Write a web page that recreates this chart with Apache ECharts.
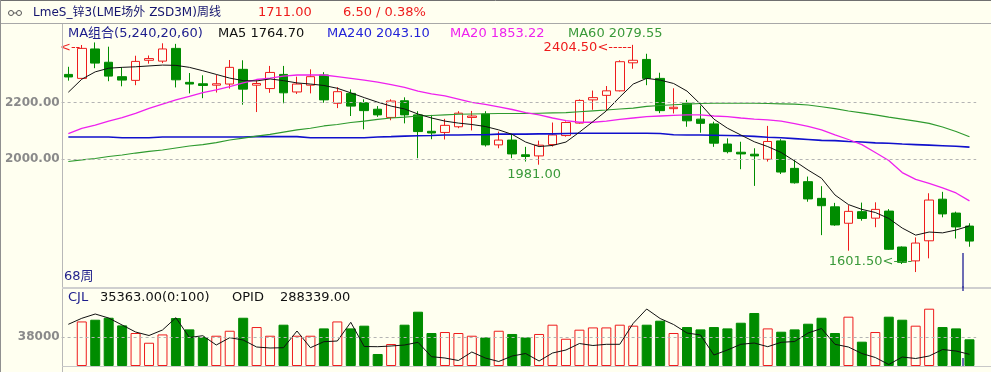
<!DOCTYPE html>
<html><head><meta charset="utf-8">
<script src="https://cdn.jsdelivr.net/npm/echarts@6/dist/echarts.min.js"></script>
<style>html,body{margin:0;padding:0;background:#fffff0;}#c{width:991px;height:372px;}</style>
</head><body><div id="c"></div><script>
// ---- data (68 weekly bars) ----
const categories = Array.from({length: 68}, (_, i) => 'W' + (i + 1));
const opens  = [2300,2286,2390,2343,2292,2279,2350,2347,2392,2272,2267,2262,2266,2318,2262,2250,2300,2238,2262,2298,2198,2233,2200,2177,2148,2207,2157,2099,2095,2115,2148,2160,2051,2068,2016,2012,2052,2084,2128,2210,2226,2242,2341,2353,2286,2179,2198,2142,2125,2054,2025,2018,2000,2065,1968,1921,1862,1832,1774,1815,1792,1817,1690,1641,1712,1859,1810,1764];
const closes = [2291,2392,2340,2294,2280,2346,2356,2390,2281,2266,2261,2267,2325,2248,2268,2307,2235,2266,2292,2210,2239,2188,2172,2157,2206,2157,2098,2093,2120,2163,2153,2051,2068,2019,2010,2050,2086,2130,2208,2218,2242,2345,2350,2286,2172,2184,2136,2127,2057,2027,2019,2012,2063,1955,1917,1860,1836,1768,1816,1791,1823,1682,1636,1704,1856,1807,1761,1711];
const lows   = [2278,2284,2322,2276,2258,2262,2338,2340,2254,2233,2216,2236,2250,2193,2167,2235,2198,2231,2233,2200,2181,2153,2106,2150,2138,2127,2004,2071,2070,2110,2102,2045,2039,2004,1992,1981,2045,2080,2126,2175,2172,2240,2320,2262,2163,2162,2115,2094,2044,2021,1965,1906,1992,1948,1914,1850,1732,1765,1677,1783,1760,1680,1630,1601.5,1650,1795,1720,1691];
const highs  = [2327,2404,2413,2398,2325,2366,2367,2410,2408,2305,2297,2298,2351,2350,2280,2330,2330,2292,2318,2308,2255,2247,2212,2188,2212,2219,2170,2157,2143,2170,2171,2170,2098,2086,2044,2066,2130,2134,2212,2243,2259,2350,2404.5,2373,2306,2251,2210,2190,2133,2074,2062,2039,2118,2071,1998,1939,1905,1846,1838,1847,1848,1824,1692,1724,1880,1885,1815,1774];
const ma5    = [2237,2283,2309,2322,2325,2327,2330,2333,2332,2325,2313,2300,2287,2278,2277,2284,2278,2270,2266,2261,2251,2235,2218,2202,2188,2178,2160,2146,2135,2128,2123,2116,2104,2088,2061,2045,2049,2061,2096,2133,2171,2220,2266,2286,2280,2268,2241,2195,2142,2110,2086,2062,2045,2024,1994,1962,1933,1874,1840,1823,1812,1791,1757,1732,1743,1740,1750,1764.70];
const ma20   = [2091,2109,2121,2135,2147,2162,2180,2195,2210,2222,2236,2245,2257,2270,2282,2287,2294,2298,2298,2298,2292,2286,2280,2273,2264,2254,2241,2231,2224,2213,2201,2194,2185,2176,2165,2157,2146,2137,2131,2131,2135,2141,2146,2151,2153,2155,2157,2157,2153,2151,2146,2142,2139,2135,2126,2116,2104,2086,2070,2052,2024,1996,1953,1929,1915,1899,1881,1853.22];
const ma60   = [1992,1998,2003,2010,2015,2022,2028,2033,2040,2047,2052,2059,2068,2075,2082,2088,2096,2104,2110,2118,2123,2130,2135,2141,2146,2149,2153,2155,2157,2159,2160,2161,2162,2162,2162,2163,2164,2165,2168,2171,2174,2178,2181,2187,2190,2193,2195,2197,2198,2198,2198,2198,2197,2196,2195,2192,2186,2179,2171,2164,2157,2149,2142,2135,2127,2114,2098,2079.55];
const ma240  = [2079,2079,2079,2079,2076,2076,2076,2079,2079,2079,2079,2079,2079,2079,2080,2080,2080,2080,2076,2076,2076,2076,2076,2079,2080,2082,2083,2084,2086,2086,2087,2087,2089,2089,2089,2090,2090,2091,2092,2092,2092,2092,2092,2092,2091,2087,2086,2086,2085,2084,2083,2081,2078,2076,2073,2070,2067,2066,2063,2061,2058,2057,2054,2052,2050,2048,2046,2043.10];
const volumes = [null,59000,61300,63900,53800,43700,30800,41800,63500,48500,38400,40100,46700,63900,51600,40100,54700,40100,40100,49800,59000,49800,53400,15900,29100,54700,71900,43700,45000,43700,40100,37900,46700,42400,37900,42400,54700,36100,48100,51100,51100,54700,53400,54700,60000,43700,51600,48500,51600,49800,57300,70200,49800,45400,48500,56000,63900,43700,65300,32200,45000,65300,61300,53400,75900,51600,49800,35363];
const opid = [303350,306350,308500,306500,303000,299500,297750,300500,306650,296750,297650,293000,296650,295500,292000,291500,291650,300000,291650,294650,295000,304350,292250,292150,292500,293000,294350,287150,286500,285250,289500,286500,284750,287500,288750,285000,289000,290500,293750,292750,293350,293350,303850,311000,306250,303250,299000,298000,288000,290500,293350,294000,292150,294350,294750,299000,301250,293350,292000,288750,286750,283250,287000,286250,287500,290750,290000,288339];
const priceTicks = [2000, 2200];
const volumeTicks = [38000];
const highMarks = [[42, 2404.50]];
const leftMark = [[1, 2404]];
const lowMarks = [[63, 1601.50]];
const localLow = [[35, 1981.00]];
const titleText = 'LmeS_锌3(LME场外 ZSD3M)周线';
const lastPrice = 1711.00, change = 6.50, changePct = 0.38;
const barsLabel = '68周';

// ---- styling ----
const BG = '#fffff0', RED = '#ee1c1c', GREEN = '#008c00';
const FAM = '"DejaVu Sans", "Noto Sans CJK SC", sans-serif';
const f13 = '13px ' + FAM;
const lbl = (color, extra) => Object.assign({color: color, fontSize: 13, fontFamily: FAM}, extra || {});

const candleData = opens.map((o, i) => [o, closes[i], lows[i], highs[i]]);
const volData = volumes.map((v, i) => {
  const up = closes[i] > opens[i];
  return {value: v, itemStyle: up ? {color: BG, borderColor: RED, borderWidth: 1} : {color: GREEN, borderColor: GREEN, borderWidth: 1}};
});
const last = a => a[a.length - 1];

function txt(x, y, text, fill, font) {
  return {type: 'text', x: x, y: y, z: 50, silent: true,
    style: {text: text, fill: fill, font: font || f13, align: 'left', verticalAlign: 'middle'}};
}
function ln(x1, y1, x2, y2, stroke, w) {
  return {type: 'line', z: 40, silent: true, shape: {x1, y1, x2, y2}, style: {stroke, lineWidth: w || 1}};
}
const axisLbl = {position: 'start', distance: 2, color: '#8a8a8a', fontSize: 12, fontWeight: 'bold', fontFamily: '"DejaVu Sans", sans-serif'};

const chart = echarts.init(document.getElementById('c'), null, {renderer: 'canvas'});
const gridL = 61.6, gridR = 14.8;
chart.setOption({
  backgroundColor: BG,
  animation: false,
  grid: [
    {left: gridL, right: gridR, top: 24, height: 263},
    {left: gridL, right: gridR, top: 292, height: 74}
  ],
  xAxis: [
    {type: 'category', data: categories, gridIndex: 0, show: false, boundaryGap: true},
    {type: 'category', data: categories, gridIndex: 1, show: false, boundaryGap: true}
  ],
  yAxis: [
    {type: 'value', gridIndex: 0, min: 1548.7, max: 2478.2, show: false, splitLine: {show: false}},
    {type: 'value', gridIndex: 1, min: 0, max: 98000, show: false, splitLine: {show: false}},
    {type: 'value', gridIndex: 1, min: 282500, max: 319500, show: false, splitLine: {show: false}}
  ],
  series: [
    {
      type: 'candlestick', xAxisIndex: 0, yAxisIndex: 0, data: candleData, barWidth: 9,
      itemStyle: {color: BG, color0: GREEN, borderColor: RED, borderColor0: GREEN, borderWidth: 1},
      markLine: {
        silent: true, symbol: ['none', 'none'], animation: false,
        lineStyle: {color: '#b4b4b4', type: [3, 3], width: 1},
        label: Object.assign({formatter: p => p.value.toFixed(2)}, axisLbl),
        data: priceTicks.map(v => ({yAxis: v}))
      },
      markPoint: {
        silent: true, z: 20, symbol: 'circle', symbolSize: 1, itemStyle: {color: 'rgba(0,0,0,0)'}, animation: false,
        data: [
          ...highMarks.map(m => ({coord: m, label: lbl(RED, {show: true, position: 'left', distance: 1, offset: [0, 3], formatter: m[1].toFixed(2) + '<-----'})})),
          ...leftMark.map(m => ({coord: m, label: lbl(RED, {show: true, position: 'left', distance: 1, offset: [0, 3], formatter: '<--'})})),
          ...lowMarks.map(m => ({coord: m, label: lbl('#3a9a3a', {show: true, position: 'left', distance: 3, offset: [0, -10], formatter: m[1].toFixed(2) + '<----'})})),
          ...localLow.map(m => ({coord: m, label: lbl('#3a9a3a', {show: true, position: 'bottom', distance: 3, offset: [-5, 0], formatter: m[1].toFixed(2)})}))
        ]
      }
    },
    {type: 'line', name: 'MA240', xAxisIndex: 0, yAxisIndex: 0, data: ma240, showSymbol: false, symbol: 'none', lineStyle: {color: '#1010cc', width: 1.6}, z: 3},
    {type: 'line', name: 'MA60', xAxisIndex: 0, yAxisIndex: 0, data: ma60, showSymbol: false, symbol: 'none', lineStyle: {color: '#2e9a2e', width: 1.1}, z: 3},
    {type: 'line', name: 'MA20', xAxisIndex: 0, yAxisIndex: 0, data: ma20, showSymbol: false, symbol: 'none', lineStyle: {color: '#ee22ee', width: 1.3}, z: 3},
    {type: 'line', name: 'MA5', xAxisIndex: 0, yAxisIndex: 0, data: ma5, showSymbol: false, symbol: 'none', lineStyle: {color: '#111111', width: 1}, z: 4},
    {
      type: 'bar', xAxisIndex: 1, yAxisIndex: 1, data: volData, barWidth: 10,
      markLine: {
        silent: true, symbol: ['none', 'none'], animation: false,
        lineStyle: {color: '#b4b4b4', type: [3, 3], width: 1},
        label: Object.assign({formatter: p => String(p.value)}, axisLbl),
        data: volumeTicks.map(v => ({yAxis: v}))
      }
    },
    {type: 'line', name: 'OPID', xAxisIndex: 1, yAxisIndex: 2, data: opid, showSymbol: false, symbol: 'none', lineStyle: {color: '#111111', width: 1}, z: 4}
  ],
  graphic: [
    ln(0, 0.5, 991, 0.5, '#707070', 1),
    ln(0, 23.5, 991, 23.5, '#a8a8a8', 1),
    ln(0.5, 0, 0.5, 372, '#909090', 1),
    ln(62.5, 24, 62.5, 372, '#b8b8b8', 1),
    ln(62, 288, 991, 288, '#cfcfcf', 2),
    ln(62, 366.5, 991, 366.5, '#c8c8c8', 1),
    ln(963, 253, 963, 288, '#3c3ca0', 1.5),
    ln(963, 286, 963, 291, '#3c3ca0', 1.5),
    ln(963, 358, 963, 366, '#3c3ca0', 1.5),
    {type: 'circle', z: 50, silent: true, shape: {cx: 11, cy: 13, r: 2.5}, style: {stroke: '#555', fill: 'none', lineWidth: 1}},
    {type: 'circle', z: 50, silent: true, shape: {cx: 19, cy: 13, r: 2.5}, style: {stroke: '#555', fill: 'none', lineWidth: 1}},
    ln(13.5, 13, 16.5, 13, '#555', 1),
    txt(33, 13, titleText, '#14146e', '12px ' + FAM),
    txt(258, 13, lastPrice.toFixed(2), RED),
    txt(343, 13, change.toFixed(2) + ' / ' + changePct.toFixed(2) + '%', RED),
    txt(68, 34, 'MA组合(5,240,20,60)', '#1c1c8c'),
    txt(218, 34, 'MA5 ' + last(ma5).toFixed(2), '#111111'),
    txt(327, 34, 'MA240 ' + last(ma240).toFixed(2), '#2424d8'),
    txt(450, 34, 'MA20 ' + last(ma20).toFixed(2), '#ee22ee'),
    txt(568, 34, 'MA60 ' + last(ma60).toFixed(2), '#3a9a3a'),
    txt(64, 277, barsLabel, '#24248c'),
    txt(68, 298, 'CJL', '#1c1c8c'),
    txt(100, 298, last(volumes).toFixed(2) + '(0:100)', '#111111'),
    txt(232, 298, 'OPID', '#111111'),
    txt(280, 298, last(opid).toFixed(2), '#111111')
  ]
});
</script></body></html>
